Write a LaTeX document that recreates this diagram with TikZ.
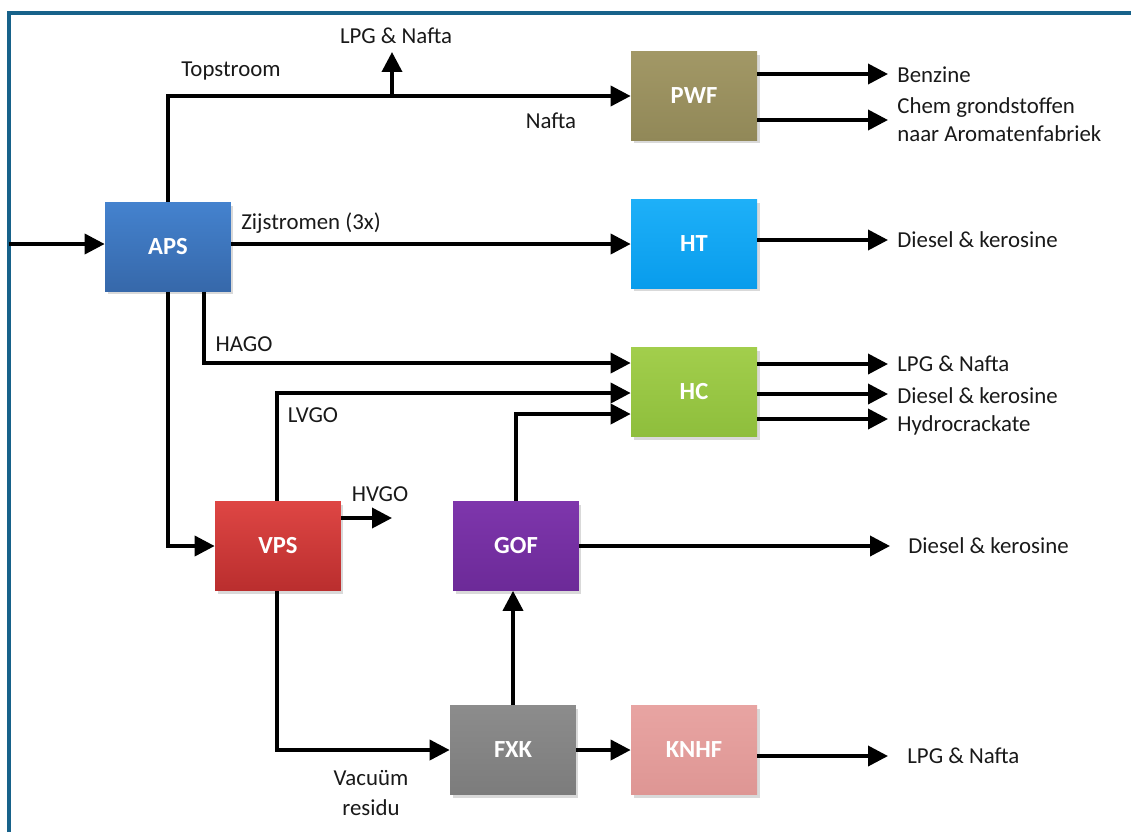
\documentclass[tikz,border=0pt]{standalone}
\usepackage{fontspec}
\setmainfont{Carlito}
\usetikzlibrary{arrows.meta,shadows}

\definecolor{framec}{RGB}{23,98,138}
\definecolor{apsT}{RGB}{68,130,206}\definecolor{apsB}{RGB}{54,104,170}
\definecolor{pwfT}{RGB}{162,152,102}\definecolor{pwfB}{RGB}{145,136,88}
\definecolor{htT}{RGB}{30,176,248}\definecolor{htB}{RGB}{8,156,236}
\definecolor{hcT}{RGB}{162,206,76}\definecolor{hcB}{RGB}{142,190,60}
\definecolor{vpsT}{RGB}{222,70,68}\definecolor{vpsB}{RGB}{186,46,46}
\definecolor{gofT}{RGB}{126,54,172}\definecolor{gofB}{RGB}{108,42,152}
\definecolor{fxkT}{RGB}{140,140,140}\definecolor{fxkB}{RGB}{124,124,124}
\definecolor{knhfT}{RGB}{232,164,162}\definecolor{knhfB}{RGB}{222,150,148}

\tikzset{
  unit/.style 2 args={rectangle, minimum width=2.52cm, minimum height=1.78cm,
    inner sep=0pt, draw=none, top color=#1, bottom color=#2,
    text=white, font=\bfseries\fontsize{14}{16}\selectfont,
    drop shadow={opacity=0.3, shadow xshift=0.05cm, shadow yshift=-0.06cm}},
  flow/.style={line width=2.1pt, -{Triangle[length=0.4cm,width=0.4cm]}},
  lbl/.style={font=\fontsize{13}{15}\selectfont, text=black!90, inner sep=0pt},
  frameline/.style={line width=1.8pt, draw=framec}
}

\begin{document}
\begin{tikzpicture}[x=0.02cm, y=-0.02cm]
  \useasboundingbox (0,0) rectangle (1131,832);
  \draw[frameline] (9,832) -- (9,13) -- (1131,13);

  % process units
  \node[unit={apsT}{apsB}]   (aps)  at (168,247) {APS};
  \node[unit={pwfT}{pwfB}]   (pwf)  at (694,96)  {PWF};
  \node[unit={htT}{htB}]     (ht)   at (694,244) {HT};
  \node[unit={hcT}{hcB}]     (hc)   at (694,392) {HC};
  \node[unit={vpsT}{vpsB}]   (vps)  at (278,546) {VPS};
  \node[unit={gofT}{gofB}]   (gof)  at (516,546) {GOF};
  \node[unit={fxkT}{fxkB}]   (fxk)  at (513,750) {FXK};
  \node[unit={knhfT}{knhfB}] (knhf) at (694,750) {KNHF};

  % routing points and free ends
  \coordinate (feed)   at (9,244);
  \coordinate (topY)   at (168,96);
  \coordinate (lpgUp)  at (392,52);
  \coordinate (hagoX)  at (204,363);
  \coordinate (lvgoY)  at (277,393);
  \coordinate (gofY)   at (516,414);
  \coordinate (hvgoE)  at (392,518);
  \coordinate (vacY)   at (277,750);
  \coordinate (outX)   at (888,0);
  \coordinate (gofE)   at (890,546);

  % feed into APS
  \draw[flow] (feed) -- (aps.west |- feed);
  % top stream to PWF with LPG branch
  \draw[flow] (aps.north) |- (pwf.west |- topY);
  \draw[flow] (lpgUp |- topY) -- (lpgUp);
  % side streams to HT
  \draw[flow] (aps.east |- ht.west) -- (ht.west);
  % HAGO to HC
  \draw[flow] (aps.south -| hagoX) |- (hc.west |- hagoX);
  % APS bottoms to VPS
  \draw[flow] (aps.south) |- (vps.west);
  % LVGO to HC
  \draw[flow] (vps.north -| lvgoY) |- (hc.west |- lvgoY);
  % HVGO
  \draw[flow] (vps.east |- hvgoE) -- (hvgoE);
  % vacuum residue to FXK
  \draw[flow] (vps.south -| vacY) |- (fxk.west |- vacY);
  % FXK to GOF, GOF to HC
  \draw[flow] (fxk.north) -- (gof.south -| fxk.north);
  \draw[flow] (gof.north) |- (hc.west |- gofY);
  \draw[flow] (gof.east) -- (gofE);
  % FXK to KNHF
  \draw[flow] (fxk.east) -- (knhf.west);

  % product outlets
  \draw[flow] (pwf.east |- 0,74)  -- (outX |- 0,74);
  \draw[flow] (pwf.east |- 0,120) -- (outX |- 0,120);
  \draw[flow] (ht.east |- 0,240)  -- (outX |- 0,240);
  \draw[flow] (hc.east |- 0,364)  -- (outX |- 0,364);
  \draw[flow] (hc.east |- 0,394)  -- (outX |- 0,394);
  \draw[flow] (hc.east |- 0,419)  -- (outX |- 0,419);
  \draw[flow] (knhf.east |- 0,756) -- (outX |- 0,756);

  % stream labels
  \node[lbl] (lTop)  at (231,71)  {Topstroom};
  \node[lbl] (lLpg1) at (396,36)  {LPG \& Nafta};
  \node[lbl] (lNaf)  at (551,121) {Nafta};
  \node[lbl] (lZij)  at (311,223) {Zijstromen (3x)};
  \node[lbl] (lHago) at (244,344) {HAGO};
  \node[lbl] (lLvgo) at (313,415) {LVGO};
  \node[lbl] (lHvgo) at (380,494) {HVGO};
  \node[lbl, align=center] (lVac) at (371,793) {Vacuüm\\[2pt]residu};

  % product labels
  \node[lbl, anchor=west] (pBenz) at (897,75)  {Benzine};
  \node[lbl, anchor=west, align=left] (pChem) at (897,120) {Chem grondstoffen\\[1pt]naar Aromatenfabriek};
  \node[lbl, anchor=west] (pHt)   at (897,240) {Diesel \& kerosine};
  \node[lbl, anchor=west] (pLpg)  at (897,364) {LPG \& Nafta};
  \node[lbl, anchor=west] (pDk)   at (897,396) {Diesel \& kerosine};
  \node[lbl, anchor=west] (pHyd)  at (897,425) {Hydrocrackate};
  \node[lbl, anchor=west] (pGof)  at (908,546) {Diesel \& kerosine};
  \node[lbl, anchor=west] (pKnhf) at (907,756) {LPG \& Nafta};
\end{tikzpicture}
\end{document}
